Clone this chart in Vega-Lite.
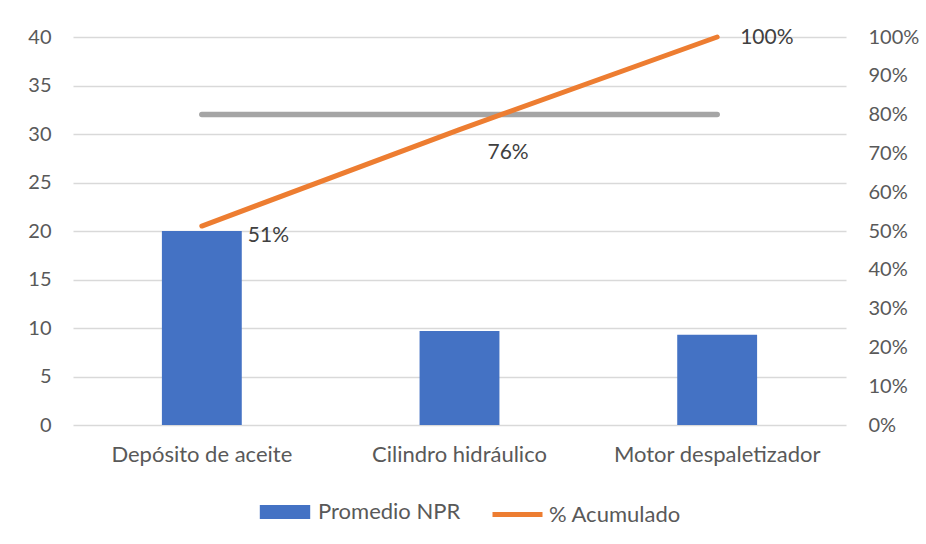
{
  "$schema": "https://vega.github.io/schema/vega-lite/v6.json",
  "width": 773,
  "height": 388,
  "autosize": {"type": "none"},
  "padding": {"left": 73, "top": 37, "right": 80, "bottom": 119},
  "background": "white",
  "config": {
    "view": {"stroke": null},
    "font": "Lato",
    "axis": {"labelFont": "Lato", "labelFontSize": 20, "labelColor": "#595959"},
    "legend": {"labelFont": "Lato", "labelFontSize": 22, "labelColor": "#595959"}
  },
  "data": {
    "values": [
      {"Causa": "Depósito de aceite", "NPR": 20, "Acum": 0.5128, "Meta": 0.8},
      {"Causa": "Cilindro hidráulico", "NPR": 9.7, "Acum": 0.7615, "Meta": 0.8},
      {"Causa": "Motor despaletizador", "NPR": 9.3, "Acum": 1.0, "Meta": 0.8}
    ]
  },
  "encoding": {
    "x": {
      "field": "Causa",
      "type": "nominal",
      "sort": null,
      "scale": {"paddingInner": 0, "paddingOuter": 0},
      "axis": {"title": null, "labelAngle": 0, "ticks": false, "domain": false, "labelPadding": 19, "labelFontSize": 22, "labelLimit": 0}
    }
  },
  "layer": [
    {
      "mark": {"type": "bar", "width": {"band": 0.31}},
      "encoding": {
        "y": {
          "field": "NPR",
          "type": "quantitative",
          "scale": {"domain": [0, 40]},
          "axis": {"title": null, "values": [0, 5, 10, 15, 20, 25, 30, 35, 40], "grid": true, "gridColor": "#D9D9D9", "gridWidth": 1.5, "domain": false, "ticks": false, "labelPadding": 22}
        },
        "fill": {
          "datum": "Promedio NPR",
          "type": "nominal",
          "scale": {"domain": ["Promedio NPR"], "range": ["#4472C4"]},
          "legend": {
            "title": null,
            "orient": "none",
            "legendX": 198,
            "legendY": 461,
            "symbolType": "M-1.8,-0.5H1.8V0.5H-1.8Z",
            "symbolSize": 784,
            "symbolStrokeWidth": 0,
            "labelOffset": 19
          }
        }
      }
    },
    {
      "encoding": {
        "y": {
          "type": "quantitative",
          "scale": {"domain": [0, 1]},
          "axis": {"title": null, "orient": "right", "format": ".0%", "values": [0, 0.1, 0.2, 0.3, 0.4, 0.5, 0.6, 0.7, 0.8, 0.9, 1], "grid": false, "domain": false, "ticks": false, "labelPadding": 22}
        }
      },
      "layer": [
        {
          "mark": {"type": "line", "color": "#A5A5A5", "strokeWidth": 5.5, "strokeCap": "round"},
          "encoding": {"y": {"field": "Meta", "type": "quantitative"}}
        },
        {
          "mark": {"type": "line", "strokeWidth": 5, "strokeCap": "round"},
          "encoding": {
            "y": {"field": "Acum", "type": "quantitative"},
            "stroke": {
              "datum": "% Acumulado",
              "type": "nominal",
              "scale": {"domain": ["% Acumulado"], "range": ["#ED7D31"]},
              "legend": {
                "title": null,
                "orient": "none",
                "legendX": 417,
                "legendY": 450,
                "symbolType": "stroke",
                "symbolSize": 2500,
                "symbolStrokeWidth": 5,
                "labelOffset": 4
              }
            }
          }
        },
        {
          "transform": [{"filter": "datum.Causa === 'Depósito de aceite'"}],
          "mark": {"type": "text", "align": "left", "baseline": "middle", "dx": 46, "dy": 10, "fontSize": 21, "color": "#404040"},
          "encoding": {"y": {"field": "Acum", "type": "quantitative"}, "text": {"field": "Acum", "type": "quantitative", "format": ".0%"}}
        },
        {
          "transform": [{"filter": "datum.Causa === 'Cilindro hidráulico'"}],
          "mark": {"type": "text", "align": "left", "baseline": "middle", "dx": 28, "dy": 23, "fontSize": 21, "color": "#404040"},
          "encoding": {"y": {"field": "Acum", "type": "quantitative"}, "text": {"field": "Acum", "type": "quantitative", "format": ".0%"}}
        },
        {
          "transform": [{"filter": "datum.Causa === 'Motor despaletizador'"}],
          "mark": {"type": "text", "align": "left", "baseline": "middle", "dx": 23, "dy": 1, "fontSize": 21, "color": "#404040"},
          "encoding": {"y": {"field": "Acum", "type": "quantitative"}, "text": {"field": "Acum", "type": "quantitative", "format": ".0%"}}
        }
      ]
    }
  ],
  "resolve": {"scale": {"y": "independent"}}
}
